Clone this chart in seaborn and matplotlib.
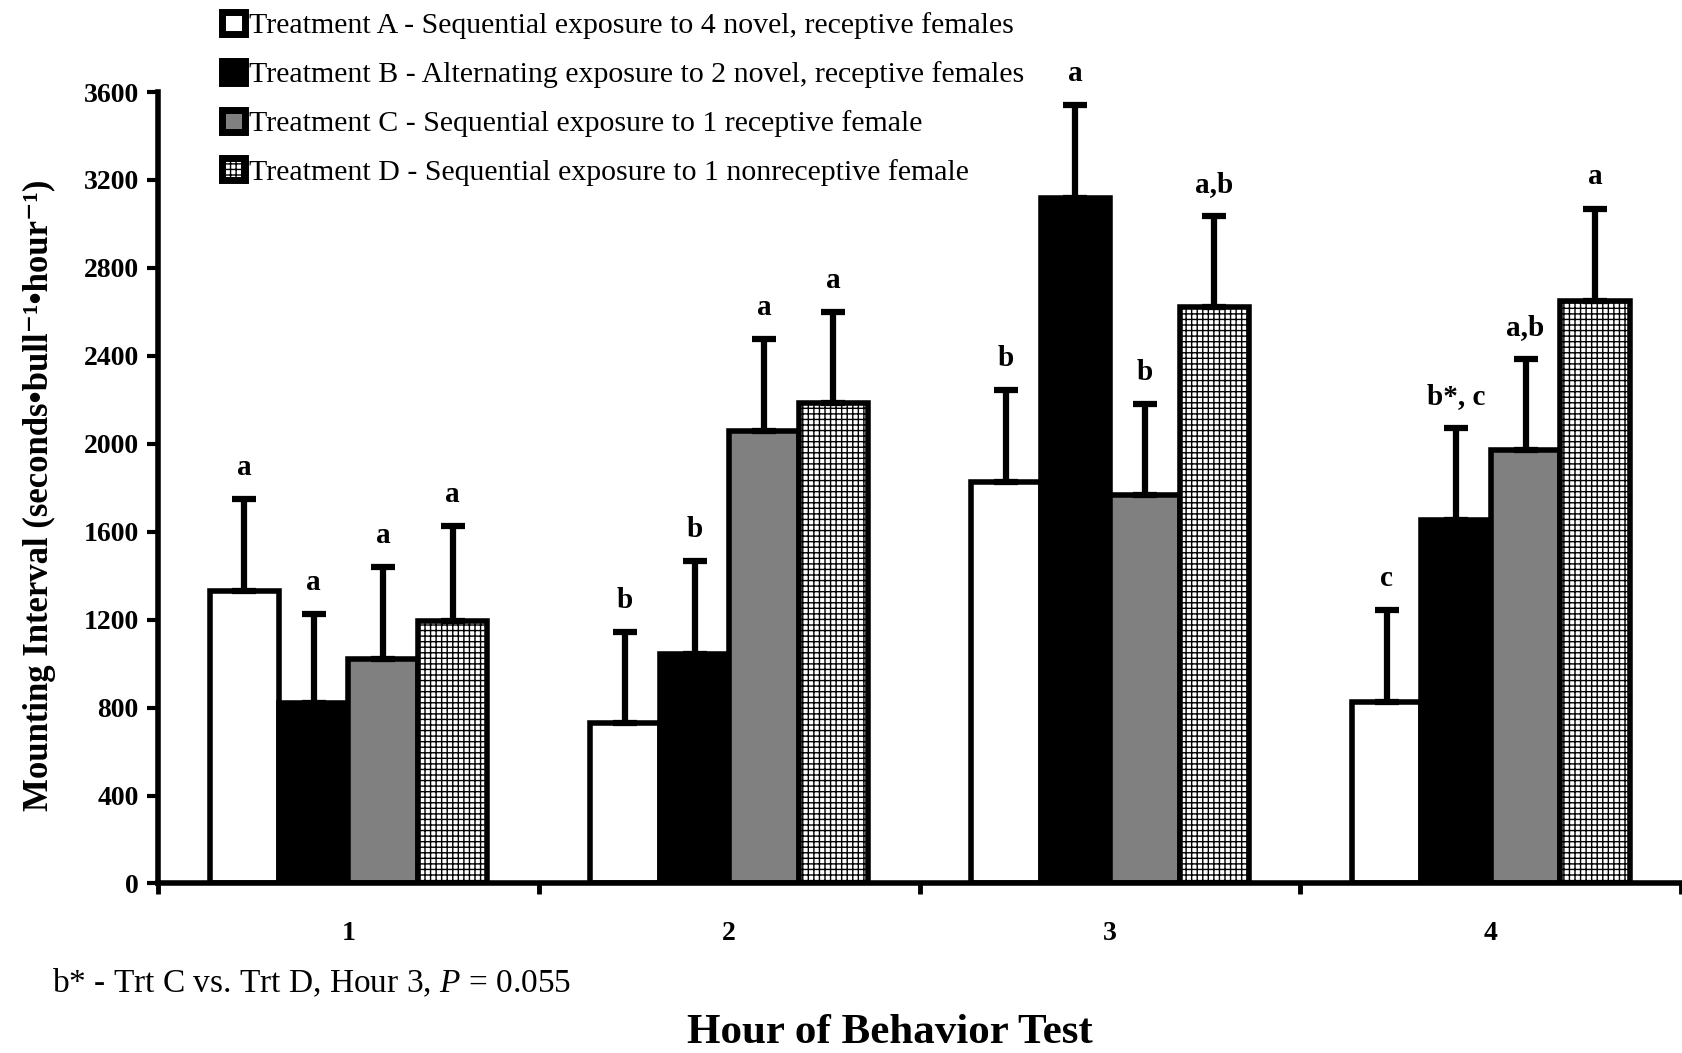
import numpy as np
import pandas as pd
import matplotlib
matplotlib.use("Agg")
import matplotlib.pyplot as plt
import seaborn as sns

# values
hours = ["1", "2", "3", "4"]
treatments = [
    "Treatment A - Sequential exposure to 4 novel, receptive females",
    "Treatment B - Alternating exposure to 2 novel, receptive females",
    "Treatment C - Sequential exposure to 1 receptive female",
    "Treatment D - Sequential exposure to 1 nonreceptive female",
]
trt_a = [1330, 730, 1825, 825]
trt_b = [820, 1045, 3120, 1655]
trt_c = [1020, 2060, 1765, 1970]
trt_d = [1195, 2185, 2620, 2650]
err_a = [420, 415, 420, 420]
err_b = [405, 420, 420, 415]
err_c = [420, 415, 415, 415]
err_d = [430, 415, 415, 420]
letters_a = ["a", "b", "b", "c"]
letters_b = ["a", "b", "a", "b*, c"]
letters_c = ["a", "a", "b", "a,b"]
letters_d = ["a", "a", "a,b", "a"]
yticks = [0, 400, 800, 1200, 1600, 2000, 2400, 2800, 3200, 3600]

means = [trt_a, trt_b, trt_c, trt_d]
errs = [err_a, err_b, err_c, err_d]
letters = [letters_a, letters_b, letters_c, letters_d]

df = pd.DataFrame({
    "hour": hours * 4,
    "treatment": np.repeat(treatments, 4),
    "mean": np.concatenate(means),
})

sns.set_style("white")
plt.rcParams["font.family"] = ["Liberation Serif", "DejaVu Serif"]
plt.rcParams["mathtext.fontset"] = "custom"
plt.rcParams["mathtext.it"] = "Liberation Serif:italic"
plt.rcParams["mathtext.rm"] = "Liberation Serif"
plt.rcParams["hatch.linewidth"] = 1.0
for k in ["text.color", "axes.labelcolor", "xtick.color", "ytick.color"]:
    plt.rcParams[k] = "black"

fig = plt.figure(figsize=(16.82, 10.53), dpi=100)
ax = fig.add_axes([0.094, 0.161, 0.9055, 0.7516])

sns.barplot(data=df, x="hour", y="mean", hue="treatment",
            palette=["white", "black", "#808080", "white"],
            width=0.73, edgecolor="black", linewidth=4,
            errorbar=None, legend=False, ax=ax)

for bar in ax.containers[3]:
    bar.set_hatch("+++")

# one-sided error bars plus significance letters
for cont, e, labs in zip(ax.containers, errs, letters):
    xs = [b.get_x() + b.get_width() / 2 for b in cont]
    hs = [b.get_height() for b in cont]
    ax.errorbar(xs, hs, yerr=[np.zeros(len(e)), e], fmt="none",
                ecolor="black", elinewidth=4.5, capsize=8.5, capthick=4.5,
                zorder=1)
    for x, h, ee, lab in zip(xs, hs, e, labs):
        ax.annotate(lab, (x, h + ee), xytext=(0, 13), textcoords="offset points",
                    ha="center", va="bottom", fontsize=21, fontweight="bold")

ax.set_xlim(-0.5, 3.5)
ax.set_ylim(0, 3600)
ax.set_yticks(yticks)
ax.set_yticklabels([str(t) for t in yticks], fontsize=20, fontweight="bold")
ax.set_xticks([-0.5, 0.5, 1.5, 2.5, 3.5])
ax.set_xticklabels([])
ax.set_xticks([0, 1, 2, 3], minor=True)
ax.set_xticklabels(hours, minor=True, fontsize=20, fontweight="bold")
ax.tick_params(axis="x", which="minor", length=0, pad=27)
ax.tick_params(axis="x", which="major", direction="out", length=8, width=3.5,
               bottom=True)
ax.tick_params(axis="y", direction="out", length=8, width=3, left=True, pad=6)

for s in ["top", "right"]:
    ax.spines[s].set_visible(False)
for s in ["left", "bottom"]:
    ax.spines[s].set_linewidth(4)
    ax.spines[s].set_color("black")
ax.spines["bottom"].set_zorder(5)

ax.set_xlabel("")
ax.set_ylabel("Mounting Interval (seconds\u2022bull\u207b\u00b9\u2022hour\u207b\u00b9)",
              fontsize=25, fontweight="bold")
ax.yaxis.set_label_coords(-0.067, 0.49)

fig.text(0.529, 0.019, "Hour of Behavior Test", ha="center", va="center",
         fontsize=31, fontweight="bold")
fig.text(0.031, 0.066, "b* - Trt C vs. Trt D, Hour 3, $\\mathit{P}$ = 0.055",
         ha="left", va="center", fontsize=24)

leg = fig.legend(ax.containers, treatments, loc="upper left",
                 bbox_to_anchor=(0.125, 1.0), frameon=False, fontsize=21.5,
                 handlelength=0.75, handleheight=0.75, handletextpad=0.15,
                 labelspacing=0.72, borderaxespad=0)
for h in leg.legend_handles:
    h.set_linewidth(5)

fig.savefig("out.png", dpi=100)
